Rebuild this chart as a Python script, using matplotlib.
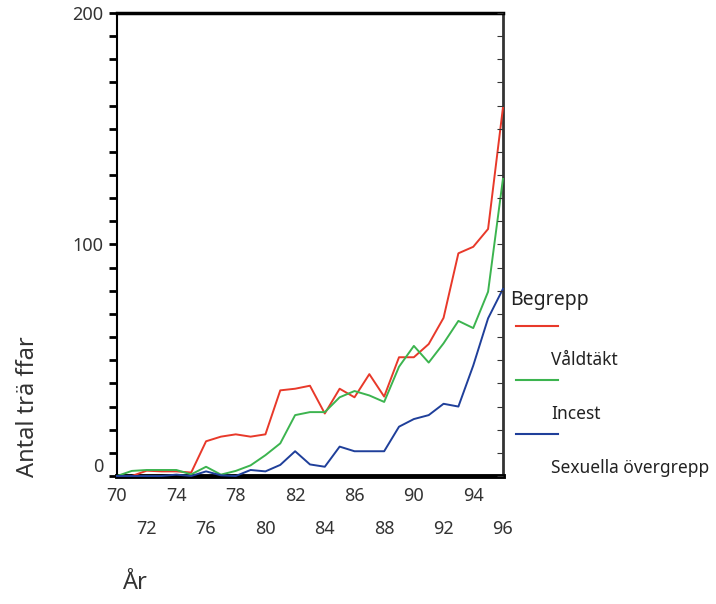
import numpy as np
import matplotlib.pyplot as plt
from matplotlib.lines import Line2D
from matplotlib.ticker import MultipleLocator, FixedLocator

plt.rcParams['font.family'] = ['Noto Sans', 'DejaVu Sans']

# data
years = list(range(70, 97))
valdtakt = [0, 0, 2.3, 2, 2, 1.5, 15, 17, 18, 17, 18, 37, 37.7, 39, 27, 37.7,
            34, 44, 34.3, 51.3, 51.3, 57, 68.3, 96.2, 99, 106.7, 159]
incest = [0, 2.2, 2.6, 2.6, 2.6, 0.7, 4, 0.6, 2.2, 4.6, 9, 14.1, 26.3, 27.6,
          27.6, 34, 36.7, 34.8, 32, 47.2, 56.2, 49, 57.3, 67, 63.9, 79.6, 128.3]
overgrepp = [0, 0, 0, 0, 0.6, 0, 2, 0.3, 0, 2.6, 2, 4.8, 10.7, 5, 4, 12.7,
             10.7, 10.7, 10.7, 21.3, 24.6, 26.3, 31.2, 30, 47.7, 68.1, 80.8]
series_names = ['Våldtäkt', 'Incest', 'Sexuella övergrepp']
colors = ['#e8392a', '#3cb44f', '#1f3f9a']

fig = plt.figure(figsize=(7.16, 6.04), dpi=100)
ax = fig.add_axes([0.1634, 0.2119, 0.539, 0.7666])

for vals, c in zip([valdtakt, incest, overgrepp], colors):
    ax.plot(years, vals, color=c, lw=1.4, clip_on=False, zorder=3)

ax.set_xlim(70, 96)
ax.set_ylim(0, 200)

# y axis ticks (thick outside on the left)
ax.yaxis.set_major_locator(FixedLocator([0, 100, 200]))
ax.yaxis.set_minor_locator(MultipleLocator(10))
ax.tick_params(axis='y', which='both', direction='out', length=6, width=2,
               labelsize=13, colors='black', labelcolor='#333333', pad=4)
ax.set_yticklabels(['0', '100', '200'])
ax.get_yticklabels()[0].set_va('bottom')

# thin inward ticks on the right spine
ax2 = ax.twinx()
ax2.set_ylim(0, 200)
ax2.yaxis.set_major_locator(MultipleLocator(10))
ax2.tick_params(axis='y', direction='in', length=4, width=0.8,
                colors='#333333', labelright=False)
for s in ax2.spines.values():
    s.set_visible(False)

# x axis labels in two rows
ax.xaxis.set_major_locator(FixedLocator(years[0::4]))
ax.xaxis.set_minor_locator(FixedLocator(years[2::4]))
ax.set_xticklabels([str(y) for y in years[0::4]])
ax.set_xticklabels([str(y) for y in years[2::4]], minor=True)
ax.tick_params(axis='x', which='major', length=0, pad=8, labelsize=13,
               labelcolor='#333333')
ax.tick_params(axis='x', which='minor', length=0, pad=32, labelsize=13,
               labelcolor='#333333')

for side, w, c in [('top', 2.5, 'black'), ('bottom', 3.5, 'black'),
                   ('left', 1.5, 'black'), ('right', 2, '#333333')]:
    ax.spines[side].set_linewidth(w)
    ax.spines[side].set_color(c)

ax.set_ylabel('Antal trä ffar', fontsize=17, color='#333333')
ax.yaxis.set_label_coords(-0.2, 0.15)
fig.text(0.17, 0.025, 'År', fontsize=17, color='#333333', ha='left')

# custom legend
fig.text(0.712, 0.503, 'Begrepp', fontsize=14, color='#222222', va='center')
line_y = [326, 380, 434]
for name, c, ly in zip(series_names, colors, line_y):
    yf = 1 - ly / 604
    fig.add_artist(Line2D([0.72, 0.78], [yf, yf], color=c, lw=1.5,
                          transform=fig.transFigure))
    fig.text(0.77, 1 - (ly + 34) / 604, name, fontsize=12.5, color='#222222',
             va='center')

fig.savefig('out.png', dpi=100)
